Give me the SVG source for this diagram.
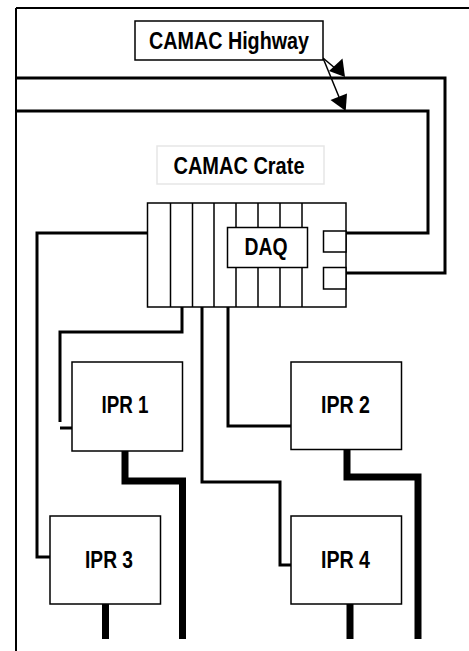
<svg xmlns="http://www.w3.org/2000/svg" width="469" height="651" viewBox="0 0 469 651">
<style>
.box{fill:#fff;stroke:#000;stroke-width:1.5}
.lbl{font-family:"Liberation Sans",Arial,sans-serif;font-weight:bold;font-size:23.5px;fill:#000;text-anchor:middle}
.w{fill:none;stroke:#000;stroke-width:3}
.t{fill:none;stroke:#000;stroke-width:7}
.thin{fill:none;stroke:#000;stroke-width:1.5}
.head{fill:#000;stroke:none}
</style>
<rect width="469" height="651" fill="#fff"/>
<g id="frame">
<path class="w" d="M16,8 H469" style="stroke-width:2"/>
<path class="thin" d="M16,8 V651" style="stroke-width:2"/>
</g>
<g id="connectors">
<path class="w" d="M16,78 H445 V273 H346"/>
<path class="w" d="M16,111 H428 V233 H346"/>
<path class="w" d="M147,233 H37 V557 H50"/>
<path class="w" d="M182,307 V332 H60 V422"/>
<path class="w" d="M60,428 H72"/>
<path class="w" d="M202,307 V482 H280 V565 H291"/>
<path class="w" d="M228,307 V426 H291"/>
<path class="t" d="M125,451 V481 H182.5 V639"/>
<path class="t" d="M105.5,604 V639"/>
<path class="t" d="M347,449 V477 H418 V639"/>
<path class="t" d="M350,604 V639"/>
<path class="thin" d="M323,58 L336,69"/>
<polygon class="head" points="345,77 329,71 342.5,58.5"/>
<path class="thin" d="M323,58 L339,97"/>
<polygon class="head" points="345.7,111 330.5,100 347,93.5"/>
</g>
<g id="camac-highway">
<rect class="box" x="135" y="21" width="188" height="39"/>
<text class="lbl" x="229" y="49" textLength="160" lengthAdjust="spacingAndGlyphs">CAMAC Highway</text>
</g>
<g id="camac-crate-label">
<rect x="157" y="146" width="167" height="38" fill="#fff" stroke="#e6e6e6" stroke-width="1.5"/>
<text class="lbl" x="239" y="174" textLength="131" lengthAdjust="spacingAndGlyphs">CAMAC Crate</text>
</g>
<g id="crate">
<rect class="box" x="147.5" y="203" width="198.5" height="104"/>
<path class="thin" d="M170.5,203 V307 M192.5,203 V307 M214,203 V307 M236,203 V227 M236,267 V307 M258,203 V227 M258,267 V307 M280,203 V227 M280,267 V307 M302,203 V227 M302,267 V307"/>
<rect class="box" x="323.5" y="231" width="22.5" height="21"/>
<rect class="box" x="323.5" y="267.5" width="22.5" height="21.5"/>
</g>
<g id="daq">
<rect class="box" x="227.5" y="227.5" width="80" height="40"/>
<text class="lbl" x="266" y="255" textLength="43" lengthAdjust="spacingAndGlyphs">DAQ</text>
</g>
<g id="ipr1">
<rect class="box" x="72" y="362" width="110.5" height="89"/>
<text class="lbl" x="125" y="413" textLength="47" lengthAdjust="spacingAndGlyphs">IPR 1</text>
</g>
<g id="ipr2">
<rect class="box" x="291" y="362" width="110.5" height="87.5"/>
<text class="lbl" x="345.5" y="413" textLength="49" lengthAdjust="spacingAndGlyphs">IPR 2</text>
</g>
<g id="ipr3">
<rect class="box" x="50" y="516" width="110.5" height="88"/>
<text class="lbl" x="109" y="568" textLength="48" lengthAdjust="spacingAndGlyphs">IPR 3</text>
</g>
<g id="ipr4">
<rect class="box" x="291" y="516" width="110.5" height="88"/>
<text class="lbl" x="345.5" y="568" textLength="49" lengthAdjust="spacingAndGlyphs">IPR 4</text>
</g>
</svg>
